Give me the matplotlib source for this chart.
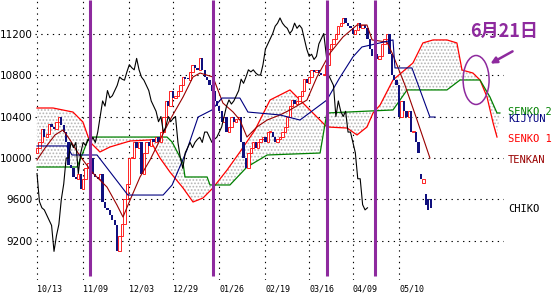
import matplotlib
matplotlib.use('Agg')
import matplotlib.pyplot as plt
from matplotlib.patches import Ellipse
import numpy as np

# daily closes (trading day index 0 = 10/13)
closes = [
    10100, 10150, 10280, 10200, 10230, 10330, 10300, 10280, 10350, 10400,
    10320, 10250, 10150, 9930, 9900, 9820, 9800, 9850, 9700, 9800,
    9900, 9950, 10000, 9850, 9820, 9800, 9850, 9580, 9520, 9500,
    9450, 9400, 9350, 9100, 9250, 9360, 9600, 9750, 10000, 10000,
    10150, 10100, 10150, 9850, 10050, 10150, 10120, 10180, 10150, 10200,
    10150, 10250, 10400, 10550, 10500, 10650, 10580, 10600, 10650, 10700,
    10780, 10760, 10750, 10830, 10900, 10870, 10850, 10960, 10850, 10780,
    10750, 10700, 10650, 10550, 10500, 10450, 10350, 10400, 10250, 10300,
    10400, 10350, 10380, 10400, 10150, 10000, 9900, 10050, 10100, 10150,
    10100, 10150, 10180, 10200, 10150, 10250, 10250, 10200, 10150, 10180,
    10200, 10250, 10300, 10400, 10500, 10560, 10520, 10550, 10600, 10650,
    10760, 10720, 10780, 10850, 10830, 10850, 10820, 10800, 10800, 10900,
    11050, 11100, 11150, 11200, 11270, 11300, 11350, 11300, 11270, 11250,
    11200, 11230, 11300, 11250, 11280, 11250, 11150, 11050, 10980, 11000,
    10950, 10980, 11100, 11150, 11200, 11000, 10800, 10750, 10700, 10400,
    10550, 10450, 10400, 10450, 10250, 10250, 10150, 10050, 9800, 9800,
    9550, 9500, 9520,
]
# opens that differ from the previous close (gaps)
gap_opens = {0: 10050, 158: 9850, 159: 9760, 160: 9650, 161: 9600, 162: 9600}

tenkan_days = [0, 3.3, 7.4, 10.7, 13.6, 16.9, 18.9, 23, 28.8, 32.9, 35.4, 38.3, 42.4,
               46.5, 50.6, 54.7, 60.1, 64.2, 67.1, 72.4, 76.5, 80.7, 83.5, 86.4, 90.5,
               94.7, 100, 104.1, 111.1, 115.2, 120.6, 125.9, 131.7, 135.8, 137.9, 144,
               146.5, 151.4, 156.4, 161.7]
tenkan_vals = [9981, 10096, 10222, 10270, 10174, 10048, 9981, 9855, 9720, 9547, 9431,
               9595, 9817, 9981, 10174, 10366, 10588, 10781, 10819, 10781, 10530, 10443,
               10366, 10202, 10299, 10366, 10415, 10463, 10559, 10781, 11012, 11166,
               11282, 11282, 11138, 11118, 10993, 10704, 10366, 10000]

kijun_days = [0, 12.3, 14.4, 24.7, 37.4, 51.9, 55.6, 61.7, 66.3, 72, 76.1, 83.5, 86.8,
              100, 108.2, 119.3, 124.5, 130, 133.7, 146.5, 147.3, 154.3, 161.7, 163.8]
kijun_vals = [10116, 10116, 10029, 10029, 9643, 9643, 9740, 10077, 10395, 10463, 10578,
              10578, 10443, 10415, 10366, 10559, 10771, 10974, 11070, 11138, 10868,
              10868, 10395, 10395]

senko1_days = [0, 6.6, 14.8, 18.9, 21.8, 25.9, 30, 38.3, 46.5, 50.6, 54.7, 60.1, 64.2,
               68.3, 72.4, 78.2, 83.5, 89.7, 95.9, 104.1, 112.3, 119.3, 127.6, 131.7,
               135.8, 138.3, 141.2, 146.5, 154.7, 158.8, 163, 168.7, 172.8, 174.9,
               179.4, 182.3, 185.2, 187.7, 189.3]
senko1_vals = [10482, 10482, 10443, 10347, 10154, 10058, 10106, 10164, 10174, 10000,
               9865, 9711, 9576, 9614, 9711, 9884, 10058, 10270, 10559, 10656, 10463,
               10299, 10289, 10222, 10299, 10434, 10511, 10752, 10916, 11109, 11138,
               11138, 11109, 10848, 10819, 10752, 10588, 10337, 10202]

senko2_days = [0, 16.5, 21, 21.8, 53.5, 55.6, 60.1, 60.9, 70, 71.2, 79.4, 86.4, 94.7,
               116.5, 119.3, 146.5, 152.3, 168.7, 174.1, 182.3, 186.4, 189.3, 190.5]
senko2_vals = [9913, 9913, 10174, 10202, 10202, 10154, 9952, 9817, 9817, 9740, 9740,
               9913, 10029, 10048, 10434, 10463, 10656, 10656, 10752, 10752, 10588,
               10434, 10434]

event_days = [22, 72.4, 119.3, 139]
tick_days = [0, 19, 38, 56, 75, 94, 112, 130, 149]
tick_labels = ['10/13', '11/09', '12/03', '12/29', '01/26', '02/19', '03/16', '04/09', '05/10']
price_ticks = [9200, 9600, 10000, 10400, 10800, 11200]

legend_names = ['SENKO 2', 'KIJYUN', 'SENKO 1', 'TENKAN', 'CHIKO']
legend_prices = [10443, 10376, 10183, 9981, 9508]

C_TENKAN = '#990000'
C_KIJUN = '#000080'
C_SENKO1 = '#ff0000'
C_SENKO2 = '#008000'
C_CHIKO = '#000000'
C_DOWN = '#10107e'
C_PURPLE = '#8e2a9e'
legend_colors = [C_SENKO2, C_KIJUN, C_SENKO1, C_TENKAN, C_CHIKO]

plt.rcParams['hatch.linewidth'] = 0.8

closes = np.array(closes, dtype=float)
days = np.arange(len(closes))
opens = np.r_[closes[0], closes[:-1]]
for d, o in gap_opens.items():
    opens[d] = o

fig = plt.figure(figsize=(5.53, 2.96), dpi=100)
ax = fig.add_axes([34.57 / 553, 16 / 296, (503.56 - 34.57) / 553, 280 / 296])
ax.set_xlim(-1, 192)
ax.set_ylim(8824, 11523)
for s in ax.spines.values():
    s.set_visible(False)

# grid
for p in price_ticks:
    ax.axhline(p, color='black', lw=0.8, ls=(0, (1.2, 4)), zorder=1)
for d in tick_days:
    ax.axvline(d, color='black', lw=0.8, ls=(0, (1.2, 4)), zorder=1)

# cloud
cx = np.r_[senko1_days, senko2_days[::-1]]
cy = np.r_[senko1_vals, senko2_vals[::-1]]
ax.fill(cx, cy, facecolor='white', edgecolor='#b4b4b4', hatch='.....', linewidth=0, zorder=2)

ax.plot(senko1_days, senko1_vals, color=C_SENKO1, lw=0.9, zorder=3)
ax.plot(senko2_days, senko2_vals, color=C_SENKO2, lw=0.9, zorder=3)

# candles
body = closes - opens
body = np.where(np.abs(body) < 12, 12, body)
up = closes >= opens
ax.bar(days[up], body[up], bottom=opens[up], width=0.95, facecolor='white',
       edgecolor='#ff0000', linewidth=0.6, zorder=4)
ax.bar(days[~up], body[~up], bottom=opens[~up], width=0.95, color=C_DOWN,
       linewidth=0, zorder=4)

ax.plot(tenkan_days, tenkan_vals, color=C_TENKAN, lw=0.8, zorder=5)
ax.plot(kijun_days, kijun_vals, color=C_KIJUN, lw=0.8, zorder=5)
ax.plot(days[:-26], closes[26:], color=C_CHIKO, lw=0.8, zorder=5)

ax.vlines(event_days, 8862, 11523, color=C_PURPLE, lw=2.2, zorder=6)

# axes labels
ax.set_yticks(price_ticks)
ax.set_yticklabels([str(p) for p in price_ticks], fontsize=7.5)
ax.set_xticks(tick_days)
ax.set_xticklabels(tick_labels, fontsize=6, family='DejaVu Sans Mono', ha='left')
ax.tick_params(length=0)
ax.tick_params(axis='y', pad=1.5)
ax.tick_params(axis='x', pad=3.5)

for name, p, c in zip(legend_names, legend_prices, legend_colors):
    ax.text(193.8, p, name, color=c, fontsize=7.5, family='DejaVu Sans Mono',
            va='center', ha='left', clip_on=False)

# annotation
ax.add_patch(Ellipse((180.7, 10752), 10.7, 472, fill=False, edgecolor=C_PURPLE,
                     lw=1.1, zorder=7))
ax.annotate('', xy=(185.6, 10897), xytext=(196.7, 11041), annotation_clip=False,
            arrowprops=dict(arrowstyle='-|>', color=C_PURPLE, lw=1.8, mutation_scale=9))
ax.text(178.2, 11224, '6月21日', color=C_PURPLE, fontsize=13, fontweight='bold',
        family=['Noto Sans CJK JP', 'DejaVu Sans'], va='center', ha='left', clip_on=False)

fig.savefig('out.png', dpi=100)
